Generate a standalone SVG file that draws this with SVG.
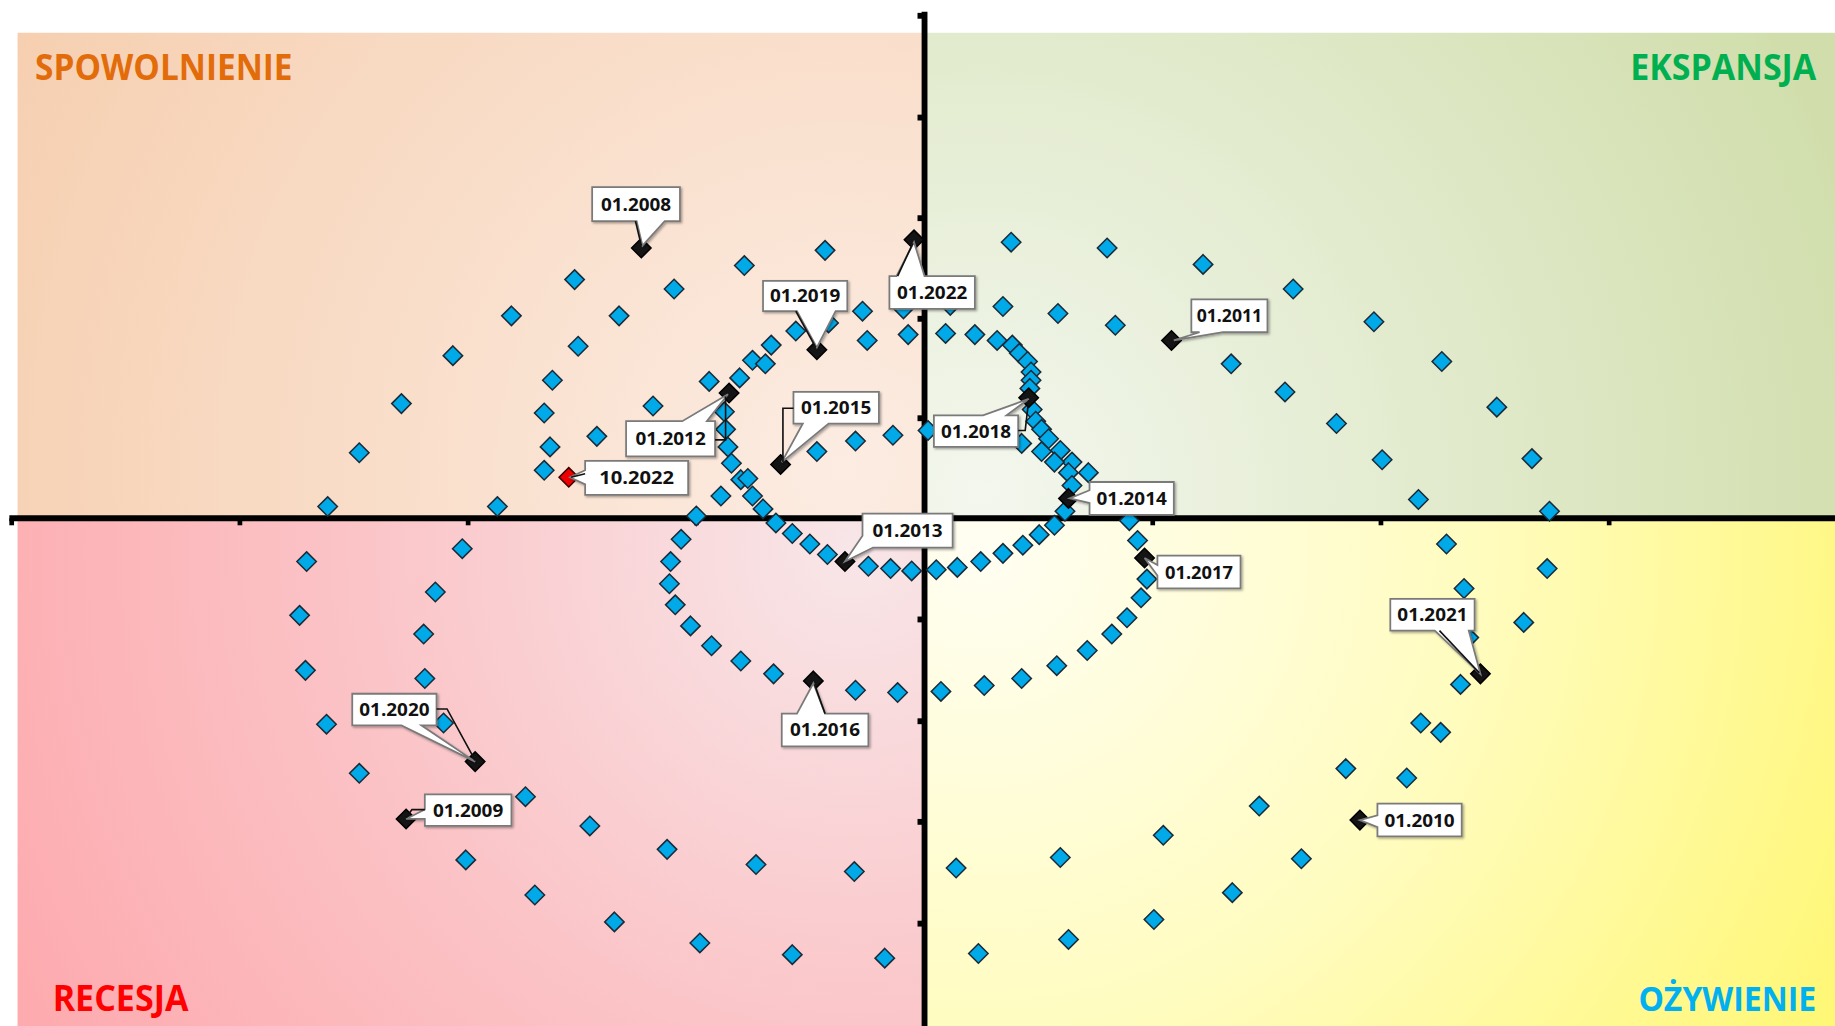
<svg xmlns="http://www.w3.org/2000/svg" xmlns:xlink="http://www.w3.org/1999/xlink" width="1835" height="1026" viewBox="0 0 1835 1026">
<style>
.q{font-family:"Open Sans","Liberation Sans",sans-serif;font-weight:700;font-size:30px}
.lb{font-family:"Open Sans","Liberation Sans",sans-serif;font-weight:700;font-size:15px;fill:#111;text-anchor:middle}
.co{fill:#fff;stroke:#7a7a7a;stroke-width:1.5;stroke-linejoin:miter;filter:url(#sh)}
.ld{fill:none;stroke:#111;stroke-width:1.4}
.bl{fill:#00a9e8;stroke:#1b2a36;stroke-width:1.3}
.bk{fill:#141414;stroke:#000;stroke-width:1.3}
.rd{fill:#ee0000;stroke:#3a0000;stroke-width:1.3}
.ax{stroke:#000;stroke-width:5;fill:none}
.tk{fill:#000}
</style>
<defs>
<filter id="sh" x="-10%" y="-10%" width="130%" height="140%"><feDropShadow dx="1.2" dy="1.2" stdDeviation="0.7" flood-color="#000" flood-opacity="0.35"/></filter>
<radialGradient id="gTL" gradientUnits="userSpaceOnUse" cx="720" cy="400" r="800"><stop offset="0" stop-color="#fcece2"/><stop offset="1" stop-color="#f6cfb0"/></radialGradient>
<radialGradient id="gTR" gradientUnits="userSpaceOnUse" cx="840" cy="420" r="780"><stop offset="0" stop-color="#f3f7ee"/><stop offset="1" stop-color="#d1deac"/></radialGradient>
<radialGradient id="gBL" gradientUnits="userSpaceOnUse" cx="730" cy="470" r="800"><stop offset="0" stop-color="#f8e6e8"/><stop offset="0.55" stop-color="#fbc3c6"/><stop offset="1" stop-color="#fdabaf"/></radialGradient>
<radialGradient id="gBR" gradientUnits="userSpaceOnUse" cx="840" cy="470" r="830"><stop offset="0" stop-color="#fffef2"/><stop offset="0.5" stop-color="#fffcc0"/><stop offset="1" stop-color="#fff775"/></radialGradient>
<path id="d" d="M0,-8.3 L8.3,0 L0,8.3 L-8.3,0 Z"/>
</defs>
<rect x="0" y="0" width="1835" height="1026" fill="#fff"/>
<g transform="scale(1.1703 1.1699)">
<g id="background">
<rect x="15" y="28" width="773" height="414" fill="url(#gTL)"/>
<rect x="792" y="28" width="776" height="414" fill="url(#gTR)"/>
<rect x="15" y="445" width="773" height="432" fill="url(#gBL)"/>
<rect x="792" y="445" width="776" height="432" fill="url(#gBR)"/>
</g>
<g id="quadrant-labels">
<text class="q" x="30" y="68" fill="#e36c0a" textLength="220" lengthAdjust="spacingAndGlyphs">SPOWOLNIENIE</text>
<text class="q" x="1393" y="68" fill="#00b050" textLength="159" lengthAdjust="spacingAndGlyphs">EKSPANSJA</text>
<text class="q" x="45" y="864" fill="#ff0000" textLength="116" lengthAdjust="spacingAndGlyphs">RECESJA</text>
<text class="q" x="1400" y="864" fill="#00b0f0" style="font-size:29px" textLength="152" lengthAdjust="spacingAndGlyphs">OŻYWIENIE</text>
</g>
<g id="axes">
<line class="ax" x1="790" y1="10" x2="790" y2="877"/>
<line class="ax" x1="8" y1="443" x2="1568" y2="443"/>
<rect class="tk" x="784" y="11" width="5" height="5"/>
<rect class="tk" x="784" y="98" width="5" height="5"/>
<rect class="tk" x="784" y="184" width="5" height="5"/>
<rect class="tk" x="784" y="270" width="5" height="5"/>
<rect class="tk" x="784" y="355" width="5" height="5"/>
<rect class="tk" x="784" y="527" width="5" height="5"/>
<rect class="tk" x="784" y="614" width="5" height="5"/>
<rect class="tk" x="784" y="700" width="5" height="5"/>
<rect class="tk" x="784" y="787" width="5" height="5"/>
<rect class="tk" x="8" y="443" width="4" height="6"/>
<rect class="tk" x="203" y="443" width="4" height="6"/>
<rect class="tk" x="398" y="443" width="4" height="6"/>
<rect class="tk" x="593" y="443" width="4" height="6"/>
<rect class="tk" x="983" y="443" width="4" height="6"/>
<rect class="tk" x="1178" y="443" width="4" height="6"/>
<rect class="tk" x="1373" y="443" width="4" height="6"/>
</g>
<g id="points">
<use href="#d" class="bl" x="705" y="214"/><use href="#d" class="bl" x="636" y="227"/><use href="#d" class="bl" x="491" y="239"/><use href="#d" class="bl" x="576" y="247"/><use href="#d" class="bl" x="437" y="270"/><use href="#d" class="bl" x="529" y="270"/><use href="#d" class="bl" x="737" y="266"/><use href="#d" class="bl" x="741" y="291"/><use href="#d" class="bl" x="776" y="286"/><use href="#d" class="bl" x="772" y="264"/><use href="#d" class="bl" x="708" y="276"/><use href="#d" class="bl" x="387" y="304"/><use href="#d" class="bl" x="494" y="296"/><use href="#d" class="bl" x="659" y="295"/><use href="#d" class="bl" x="680" y="283"/><use href="#d" class="bl" x="643" y="308"/><use href="#d" class="bl" x="654" y="311"/><use href="#d" class="bl" x="632" y="323"/><use href="#d" class="bl" x="606" y="326"/><use href="#d" class="bl" x="472" y="325"/><use href="#d" class="bl" x="343" y="345"/><use href="#d" class="bl" x="307" y="387"/><use href="#d" class="bl" x="280" y="433"/><use href="#d" class="bl" x="425" y="433"/><use href="#d" class="bl" x="465" y="353"/><use href="#d" class="bl" x="558" y="347"/><use href="#d" class="bl" x="510" y="373"/><use href="#d" class="bl" x="470" y="382"/><use href="#d" class="bl" x="465" y="402"/><use href="#d" class="bl" x="619" y="352"/><use href="#d" class="bl" x="620" y="367"/><use href="#d" class="bl" x="622" y="382"/><use href="#d" class="bl" x="625" y="396"/><use href="#d" class="bl" x="633" y="410"/><use href="#d" class="bl" x="639" y="409"/><use href="#d" class="bl" x="643" y="424"/><use href="#d" class="bl" x="616" y="424"/><use href="#d" class="bl" x="652" y="435"/><use href="#d" class="bl" x="595" y="441"/><use href="#d" class="bl" x="698" y="386"/><use href="#d" class="bl" x="731" y="377"/><use href="#d" class="bl" x="763" y="372"/>
<use href="#d" class="bl" x="864" y="207"/><use href="#d" class="bl" x="946" y="212"/><use href="#d" class="bl" x="1028" y="226"/><use href="#d" class="bl" x="1105" y="247"/><use href="#d" class="bl" x="1174" y="275"/><use href="#d" class="bl" x="1232" y="309"/><use href="#d" class="bl" x="1279" y="348"/><use href="#d" class="bl" x="1309" y="392"/><use href="#d" class="bl" x="1324" y="437"/><use href="#d" class="bl" x="1212" y="427"/><use href="#d" class="bl" x="1181" y="393"/><use href="#d" class="bl" x="1142" y="362"/><use href="#d" class="bl" x="1098" y="335"/><use href="#d" class="bl" x="1052" y="311"/><use href="#d" class="bl" x="953" y="278"/><use href="#d" class="bl" x="904" y="268"/><use href="#d" class="bl" x="857" y="262"/><use href="#d" class="bl" x="812" y="261"/><use href="#d" class="bl" x="808" y="285"/><use href="#d" class="bl" x="833" y="286"/><use href="#d" class="bl" x="852" y="291"/><use href="#d" class="bl" x="865" y="295"/><use href="#d" class="bl" x="871" y="302"/><use href="#d" class="bl" x="878" y="309"/><use href="#d" class="bl" x="881" y="318"/><use href="#d" class="bl" x="881" y="325"/><use href="#d" class="bl" x="880" y="332"/><use href="#d" class="bl" x="882" y="350"/><use href="#d" class="bl" x="885" y="360"/><use href="#d" class="bl" x="890" y="367"/><use href="#d" class="bl" x="896" y="375"/><use href="#d" class="bl" x="906" y="385"/><use href="#d" class="bl" x="916" y="395"/><use href="#d" class="bl" x="890" y="386"/><use href="#d" class="bl" x="901" y="395"/><use href="#d" class="bl" x="913" y="404"/><use href="#d" class="bl" x="930" y="404"/><use href="#d" class="bl" x="916" y="415"/><use href="#d" class="bl" x="873" y="379"/><use href="#d" class="bl" x="793" y="368"/><use href="#d" class="bl" x="910" y="437"/><use href="#d" class="bl" x="965" y="445"/>
<use href="#d" class="bl" x="663" y="447"/><use href="#d" class="bl" x="677" y="456"/><use href="#d" class="bl" x="692" y="465"/><use href="#d" class="bl" x="707" y="474"/><use href="#d" class="bl" x="742" y="484"/><use href="#d" class="bl" x="761" y="486"/><use href="#d" class="bl" x="779" y="488"/><use href="#d" class="bl" x="582" y="461"/><use href="#d" class="bl" x="573" y="480"/><use href="#d" class="bl" x="572" y="499"/><use href="#d" class="bl" x="577" y="517"/><use href="#d" class="bl" x="590" y="535"/><use href="#d" class="bl" x="608" y="552"/><use href="#d" class="bl" x="633" y="565"/><use href="#d" class="bl" x="661" y="576"/><use href="#d" class="bl" x="731" y="590"/><use href="#d" class="bl" x="767" y="592"/><use href="#d" class="bl" x="262" y="480"/><use href="#d" class="bl" x="395" y="469"/><use href="#d" class="bl" x="372" y="506"/><use href="#d" class="bl" x="256" y="526"/><use href="#d" class="bl" x="362" y="542"/><use href="#d" class="bl" x="261" y="573"/><use href="#d" class="bl" x="363" y="580"/><use href="#d" class="bl" x="279" y="619"/><use href="#d" class="bl" x="379" y="618"/><use href="#d" class="bl" x="307" y="661"/><use href="#d" class="bl" x="449" y="681"/><use href="#d" class="bl" x="504" y="706"/><use href="#d" class="bl" x="570" y="726"/><use href="#d" class="bl" x="646" y="739"/><use href="#d" class="bl" x="730" y="745"/><use href="#d" class="bl" x="398" y="735"/><use href="#d" class="bl" x="457" y="765"/><use href="#d" class="bl" x="525" y="788"/><use href="#d" class="bl" x="598" y="806"/><use href="#d" class="bl" x="677" y="816"/><use href="#d" class="bl" x="756" y="819"/>
<use href="#d" class="bl" x="901" y="449"/><use href="#d" class="bl" x="888" y="457"/><use href="#d" class="bl" x="874" y="466"/><use href="#d" class="bl" x="857" y="473"/><use href="#d" class="bl" x="838" y="480"/><use href="#d" class="bl" x="818" y="485"/><use href="#d" class="bl" x="800" y="487"/><use href="#d" class="bl" x="972" y="462"/><use href="#d" class="bl" x="980" y="495"/><use href="#d" class="bl" x="975" y="511"/><use href="#d" class="bl" x="963" y="528"/><use href="#d" class="bl" x="950" y="542"/><use href="#d" class="bl" x="929" y="556"/><use href="#d" class="bl" x="903" y="569"/><use href="#d" class="bl" x="873" y="580"/><use href="#d" class="bl" x="841" y="586"/><use href="#d" class="bl" x="804" y="591"/><use href="#d" class="bl" x="1236" y="465"/><use href="#d" class="bl" x="1322" y="486"/><use href="#d" class="bl" x="1251" y="503"/><use href="#d" class="bl" x="1302" y="532"/><use href="#d" class="bl" x="1255" y="545"/><use href="#d" class="bl" x="1248" y="585"/><use href="#d" class="bl" x="1214" y="618"/><use href="#d" class="bl" x="1231" y="626"/><use href="#d" class="bl" x="1150" y="657"/><use href="#d" class="bl" x="1202" y="665"/><use href="#d" class="bl" x="1076" y="689"/><use href="#d" class="bl" x="994" y="714"/><use href="#d" class="bl" x="906" y="733"/><use href="#d" class="bl" x="1112" y="734"/><use href="#d" class="bl" x="817" y="742"/><use href="#d" class="bl" x="1053" y="763"/><use href="#d" class="bl" x="986" y="786"/><use href="#d" class="bl" x="913" y="803"/><use href="#d" class="bl" x="836" y="815"/>
<use href="#d" class="bk" x="548" y="212"/><use href="#d" class="bk" x="698" y="299"/><use href="#d" class="bk" x="623" y="336"/><use href="#d" class="bk" x="667" y="397"/><use href="#d" class="bk" x="781" y="205"/><use href="#d" class="bk" x="1001" y="291"/><use href="#d" class="bk" x="879" y="340"/><use href="#d" class="bk" x="913" y="426"/><use href="#d" class="bk" x="722" y="480"/><use href="#d" class="bk" x="978" y="477"/><use href="#d" class="bk" x="695" y="582"/><use href="#d" class="bk" x="406" y="651"/><use href="#d" class="bk" x="347" y="700"/><use href="#d" class="bk" x="1265" y="576"/><use href="#d" class="bk" x="1162" y="701"/>
<use href="#d" class="rd" x="486" y="408"/>
</g>
<g id="callouts">
<g id="c2008"><path class="co" d="M506,160 H581 V189 H568 L549,210 L544,189 H506 Z"/><path class="ld" d="M543,189 L548,210"/><text class="lb" x="543.5" y="180" textLength="60" lengthAdjust="spacingAndGlyphs">01.2008</text></g>
<g id="c2019"><path class="co" d="M652,240 H724 V266 H714 L698,297 L681,266 H652 Z"/><path class="ld" d="M680,266 L697,297"/><text class="lb" x="688" y="258.5" textLength="60" lengthAdjust="spacingAndGlyphs">01.2019</text></g>
<g id="c2022"><path class="co" d="M760,236 H766 L781,207 L790,236 H833 V264 H760 Z"/><path class="ld" d="M767,236 L780,208"/><text class="lb" x="796.5" y="255.5" textLength="60" lengthAdjust="spacingAndGlyphs">01.2022</text></g>
<g id="c2012"><path class="co" d="M535,360 H583 L622,337 L604,360 H611 V390 H535 Z"/><path class="ld" d="M611,376 H620 V339"/><text class="lb" x="573" y="380.5" textLength="60" lengthAdjust="spacingAndGlyphs">01.2012</text></g>
<g id="c2015"><path class="co" d="M678,335 H751 V362 H708 L668,395 L686,362 H678 Z"/><path class="ld" d="M678,349 H669 V395"/><text class="lb" x="714.5" y="354" textLength="60" lengthAdjust="spacingAndGlyphs">01.2015</text></g>
<g id="c102022"><path class="co" d="M500,394 H588 V423 H500 V414 L487,408 L500,402 Z"/><path class="ld" d="M500,405 L488,408"/><text class="lb" x="544" y="414" textLength="64" lengthAdjust="spacingAndGlyphs">10.2022</text></g>
<g id="c2011"><path class="co" d="M1018,256 H1083 V284 H1045 L1003,291 L1025,284 H1018 Z"/><text class="lb" x="1050.5" y="275.5" textLength="56" lengthAdjust="spacingAndGlyphs">01.2011</text></g>
<g id="c2018"><path class="co" d="M798,355 H840 L879,341 L860,355 H870 V382 H798 Z"/><path class="ld" d="M870,368 H876 L879,342"/><text class="lb" x="834" y="374" textLength="60" lengthAdjust="spacingAndGlyphs">01.2018</text></g>
<g id="c2014"><path class="co" d="M931,412 H1003 V440 H931 V430 L914,426 L931,419 Z"/><text class="lb" x="967" y="431.5" textLength="60" lengthAdjust="spacingAndGlyphs">01.2014</text></g>
<g id="c2013"><path class="co" d="M737,439 H814 V468 H746 L722,480 L737,458 Z"/><text class="lb" x="775.5" y="459" textLength="60" lengthAdjust="spacingAndGlyphs">01.2013</text></g>
<g id="c2017"><path class="co" d="M989,475 H1060 V503 H989 V492 L978,477 L989,483 Z"/><text class="lb" x="1024.5" y="494.5" textLength="58" lengthAdjust="spacingAndGlyphs">01.2017</text></g>
<g id="c2016"><path class="co" d="M668,610 H681 L695,584 L705,610 H742 V638 H668 Z"/><path class="ld" d="M705,610 L696,585"/><text class="lb" x="705" y="629.5" textLength="60" lengthAdjust="spacingAndGlyphs">01.2016</text></g>
<g id="c2020"><path class="co" d="M301,593 H373 V620 H360 L406,651 L343,620 H301 Z"/><path class="ld" d="M373,606 H382 L406,650"/><text class="lb" x="337" y="612" textLength="60" lengthAdjust="spacingAndGlyphs">01.2020</text></g>
<g id="c2009"><path class="co" d="M363,679 H437 V706 H363 V700 L347,700 L363,692 Z"/><path class="ld" d="M363,692 H352 L347,699"/><text class="lb" x="400" y="698" textLength="60" lengthAdjust="spacingAndGlyphs">01.2009</text></g>
<g id="c2021"><path class="co" d="M1188,512 H1260 V539 H1255 L1265,576 L1226,539 H1188 Z"/><path class="ld" d="M1230,539 L1264,575"/><text class="lb" x="1224" y="531" textLength="60" lengthAdjust="spacingAndGlyphs">01.2021</text></g>
<g id="c2010"><path class="co" d="M1177,687 H1249 V715 H1177 V707 L1162,701 L1177,697 Z"/><text class="lb" x="1213" y="707" textLength="60" lengthAdjust="spacingAndGlyphs">01.2010</text></g>
</g>
</g>
</svg>
